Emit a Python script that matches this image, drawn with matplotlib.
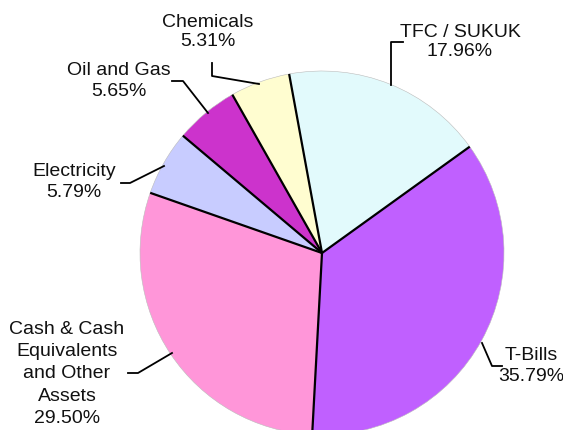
import numpy as np
import matplotlib.pyplot as plt

# Asset allocation (%)
labels = ["TFC / SUKUK", "T-Bills", "Cash & Cash\nEquivalents\nand Other\nAssets",
          "Electricity", "Oil and Gas", "Chemicals"]
values = [17.96, 35.79, 29.50, 5.79, 5.65, 5.31]
colors = ["#E2FAFC", "#C060FF", "#FF96D9", "#C8CCFF", "#CC33CC", "#FFFDD0"]

W, H = 563, 430
cx, cy, r = 322, 253, 182  # pixel coords, y measured from top

plt.rcParams['font.family'] = ['Liberation Sans', 'DejaVu Sans']

fig = plt.figure(figsize=(W / 100, H / 100), dpi=100)
ax = fig.add_axes([0, 0, 1, 1])

wedges, _ = ax.pie(values, colors=colors, startangle=100.4, counterclock=False,
                   center=(cx, H - cy), radius=r, frame=True,
                   wedgeprops=dict(edgecolor='#bbbbbb', linewidth=0.4))
ax.set_xlim(0, W)
ax.set_ylim(0, H)
ax.set_aspect('equal')
ax.axis('off')

# black separators between slices (no outline on the rim)
for w in wedges:
    t = np.deg2rad(w.theta1)
    ax.plot([cx, cx + r * np.cos(t)], [H - cy, H - cy + r * np.sin(t)],
            color='black', lw=1.6, solid_capstyle='butt')

# label text position (centre, top-down px), line spacing, leader polyline
layout = [
    ((460, 42), 1.15, [(391, 85), (391, 42), (403, 42)]),
    ((531, 366), 1.3, [(482, 343), (492, 366), (502, 366)]),
    ((67, 374), 1.42, [(172, 353), (138, 373), (128, 373)]),
    ((74, 182), 1.3, [(164, 166), (130, 183), (121, 183)]),
    ((119, 81), 1.35, [(208, 113), (183, 81), (172, 81)]),
    ((208, 32), 1.12, [(259, 84), (212, 76), (212, 63)]),
]

for lab, val, ((tx, ty), ls, pts) in zip(labels, values, layout):
    ax.text(tx, H - ty, f"{lab}\n{val:.2f}%", ha='center', va='center',
            fontsize=14, color='#111111', linespacing=ls)
    xs = [p[0] for p in pts]
    ys = [H - p[1] for p in pts]
    ax.plot(xs, ys, color='black', lw=1.3)

fig.savefig('out.png', dpi=100)
